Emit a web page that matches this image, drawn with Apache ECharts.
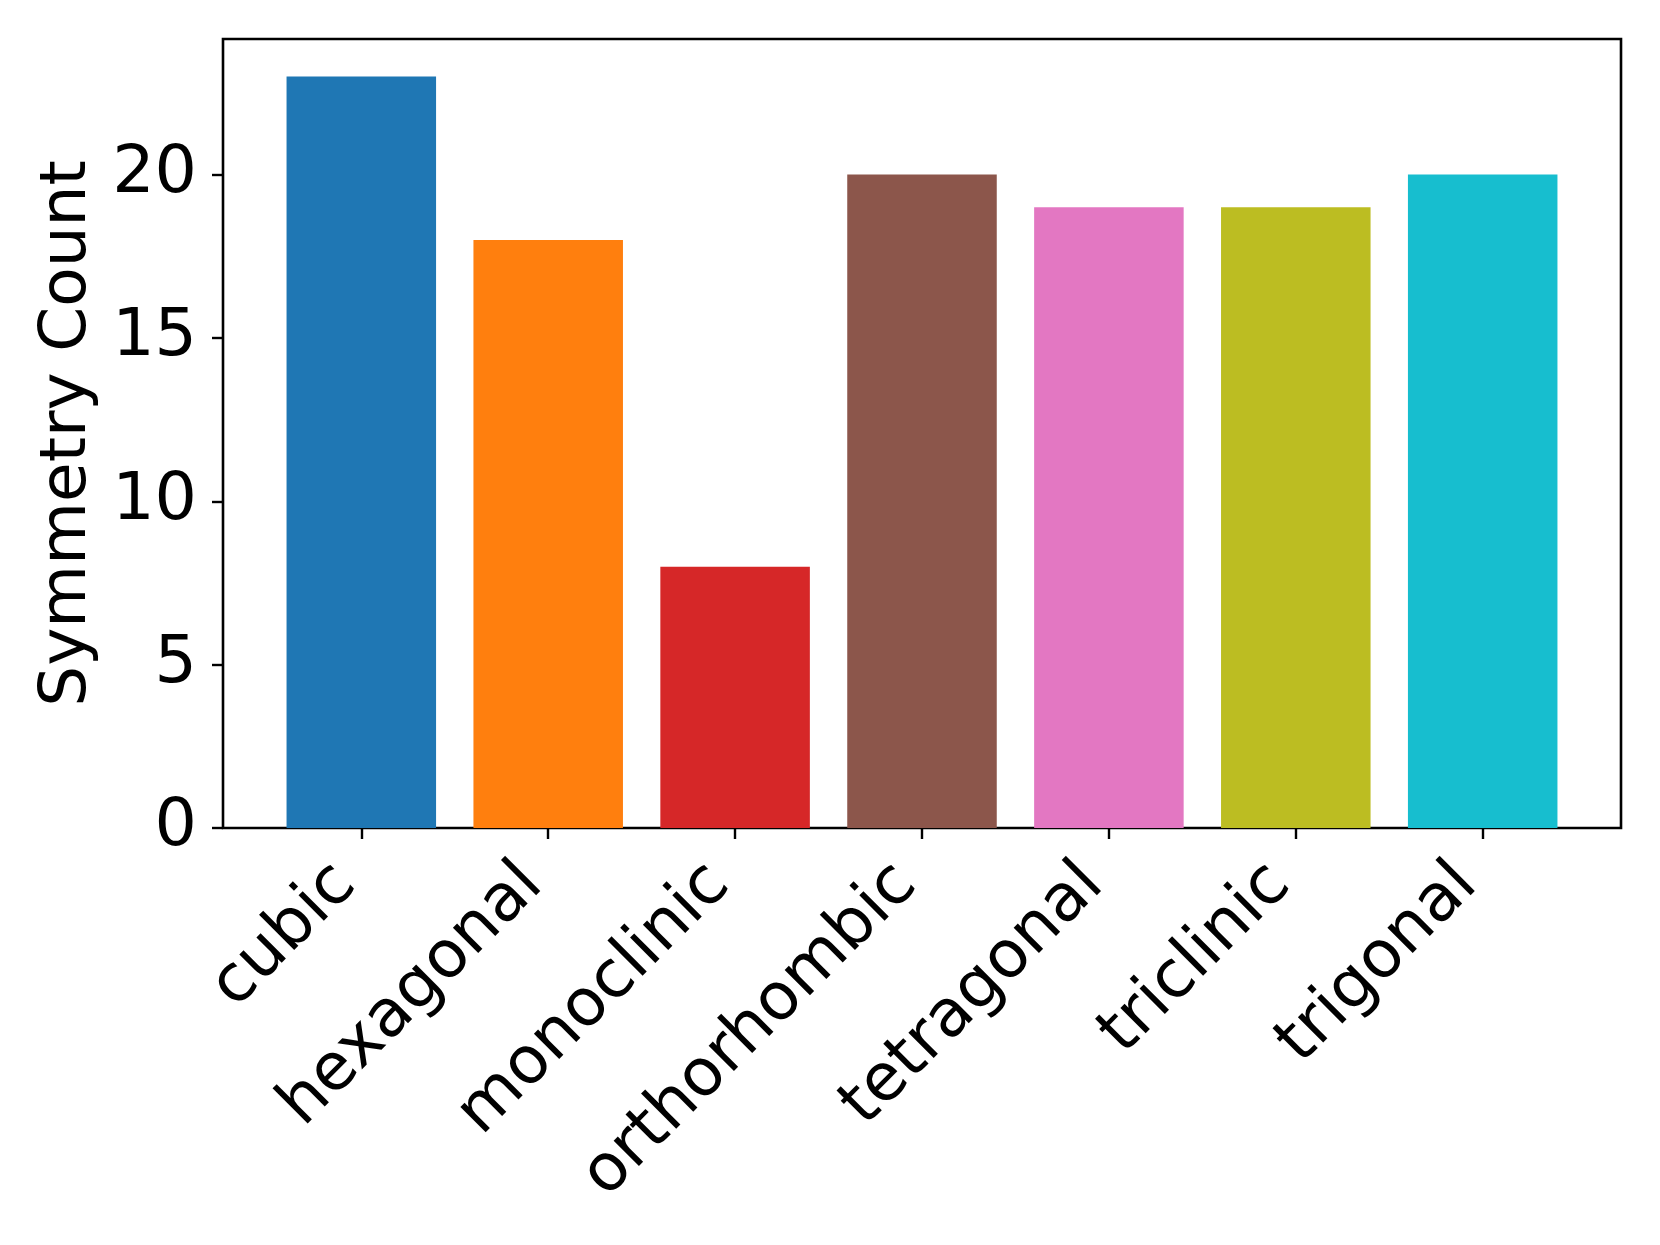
<!DOCTYPE html>
<html>
<head>
<meta charset="utf-8">
<script src="https://cdn.jsdelivr.net/npm/echarts@6/dist/echarts.min.js"></script>
<style>
  html, body { margin: 0; padding: 0; background: #fff; }
  #chart { width: 1660px; height: 1245px; }
</style>
</head>
<body>
<div id="chart"></div>
<script>
const categories = ['cubic', 'hexagonal', 'monoclinic', 'orthorhombic', 'tetragonal', 'triclinic', 'trigonal']
const counts = [23, 18, 8, 20, 19, 19, 20]
const barColors = ['#1f77b4', '#ff7f0e', '#d62728', '#8c564b', '#e377c2', '#bcbd22', '#17becf']
const yTicks = [0, 5, 10, 15, 20]

const font = 'DejaVu Sans'
const fontSize = 66.7
const yMax = 24.15

// plot frame (matplotlib axes box), in px
const frame = { left: 223, right: 1621, top: 39, bottom: 828 }
// matplotlib x limits are -0.74 .. 6.74, categories sit in -0.5 .. 6.5
const unit = (frame.right - frame.left) / 7.48
const inset = 0.24 * unit

var myChart = echarts.init(document.getElementById('chart'))

const option = {
  backgroundColor: '#fff',
  animation: false,
  grid: [
    {
      left: frame.left,
      right: 1660 - frame.right,
      top: frame.top,
      bottom: 1245 - frame.bottom,
      show: true,
      borderColor: '#000',
      borderWidth: 2.6,
      backgroundColor: 'transparent'
    },
    {
      left: frame.left + inset,
      right: 1660 - frame.right + inset,
      top: frame.top,
      bottom: 1245 - frame.bottom
    }
  ],
  xAxis: [
    {
      gridIndex: 0,
      type: 'value',
      min: 0,
      max: 1,
      show: false
    },
    {
      gridIndex: 1,
      type: 'category',
      data: categories,
      axisLine: { show: false },
      axisTick: {
        show: true,
        alignWithLabel: true,
        length: 11,
        lineStyle: { color: '#000', width: 2.4 }
      },
      axisLabel: {
        rotate: 45,
        interval: 0,
        margin: 31,
        padding: [0, 22, 0, 0],
        fontFamily: font,
        fontSize: 65.5,
        color: '#000'
      }
    }
  ],
  yAxis: [
    {
      gridIndex: 0,
      type: 'value',
      min: 0,
      max: yMax,
      name: 'Symmetry Count',
      nameLocation: 'middle',
      nameGap: 121,
      nameTextStyle: { fontFamily: font, fontSize: 64.5, color: '#000' },
      splitLine: { show: false },
      axisLine: { show: false },
      axisTick: {
        show: true,
        length: 11,
        customValues: yTicks,
        lineStyle: { color: '#000', width: 2.4 }
      },
      axisLabel: {
        margin: 26,
        fontFamily: font,
        fontSize: fontSize,
        color: '#000',
        customValues: yTicks
      }
    },
    {
      gridIndex: 1,
      type: 'value',
      min: 0,
      max: yMax,
      show: false,
      splitLine: { show: false }
    }
  ],
  series: [
    {
      type: 'bar',
      xAxisIndex: 1,
      yAxisIndex: 1,
      barWidth: '80%',
      data: counts.map(function (v, i) {
        return { value: v, itemStyle: { color: barColors[i] } }
      })
    }
  ]
}

myChart.setOption(option)
</script>
</body>
</html>
